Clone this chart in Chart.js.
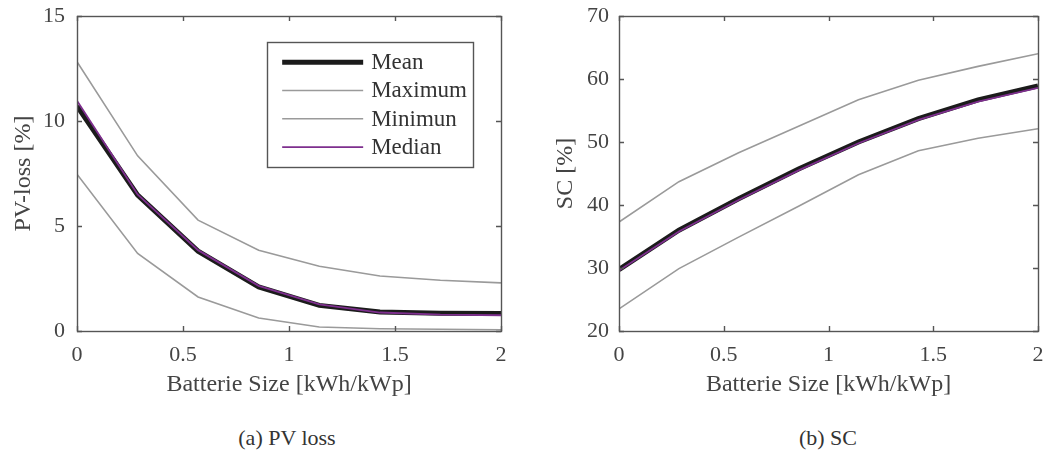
<!DOCTYPE html>
<html>
<head>
<meta charset="utf-8">
<title>PV loss and self-consumption vs battery size</title>
<script src="https://cdn.jsdelivr.net/npm/chart.js@4/dist/chart.umd.min.js"></script>
<style>
  html, body { margin: 0; padding: 0; background: #fff; }
  body { width: 1049px; height: 451px; position: relative; overflow: hidden; font-family: "Liberation Serif", "DejaVu Serif", serif; }
  .panel { position: absolute; top: 0; }
  .panel canvas { display: block; }
  .caption { position: absolute; top: 426px; width: 300px; text-align: center; font-size: 22px; line-height: 24px; color: #333; }
</style>
</head>
<body>
<div class="panel" style="left:0px"><canvas id="pvLoss" width="520" height="400"></canvas></div>
<div class="panel" style="left:520px"><canvas id="selfCons" width="529" height="400"></canvas></div>
<div class="caption" style="left:137px">(a) PV loss</div>
<div class="caption" style="left:678px">(b) SC</div>

<script>
// Battery size per kWp of PV, kWh/kWp
const batterySize = [0, 0.286, 0.571, 0.857, 1.143, 1.429, 1.714, 2];

// PV loss [%]
const pvLossMean   = [10.71, 6.47, 3.80, 2.10, 1.22, 0.91, 0.84, 0.83];
const pvLossMax    = [12.82, 8.34, 5.28, 3.85, 3.08, 2.62, 2.42, 2.29];
const pvLossMin    = [7.47, 3.69, 1.62, 0.62, 0.19, 0.11, 0.08, 0.06];
const pvLossMedian = [10.96, 6.50, 3.85, 2.15, 1.27, 0.88, 0.78, 0.75];

// Self-consumption [%]
const scMean   = [29.75, 36.0, 41.0, 45.7, 50.0, 53.7, 56.7, 58.9];
const scMax    = [37.3, 43.7, 48.3, 52.5, 56.7, 59.8, 62.0, 64.0];
const scMin    = [23.5, 29.9, 34.9, 39.8, 44.8, 48.6, 50.6, 52.1];
const scMedian = [29.6, 35.8, 40.8, 45.5, 49.8, 53.5, 56.4, 58.6];

const seriesNames = ['Mean', 'Maximum', 'Minimun', 'Median'];

const xTicks = [0, 0.5, 1, 1.5, 2];
const pvLossTicks = [0, 5, 10, 15];
const scTicks = [20, 30, 40, 50, 60, 70];

const FONT = '"Liberation Serif", "Times New Roman", serif';
const AXIS_COLOR = '#555555';
const TEXT_COLOR = '#444444';

function toPoints(xs, ys) {
  return xs.map((x, i) => ({ x: x, y: ys[i] }));
}

function makeDatasets(mean, max, min, median) {
  return [
    { label: seriesNames[0], data: toPoints(batterySize, mean),   borderColor: '#1b1b1b', borderWidth: 5,   order: 1 },
    { label: seriesNames[1], data: toPoints(batterySize, max),    borderColor: '#9a9a9a', borderWidth: 1.6, order: 2 },
    { label: seriesNames[2], data: toPoints(batterySize, min),    borderColor: '#9a9a9a', borderWidth: 1.6, order: 2 },
    { label: seriesNames[3], data: toPoints(batterySize, median), borderColor: '#7e2f8e', borderWidth: 1.8, order: 0 }
  ].map(d => Object.assign(d, { pointRadius: 0, fill: false, tension: 0, borderJoinStyle: 'miter', borderCapStyle: 'butt' }));
}

// Box around the plot area with inward tick marks on all four sides
const boxPlugin = {
  id: 'boxTicks',
  afterDatasetsDraw(chart) {
    const { ctx, chartArea: a, scales } = chart;
    const len = 5;
    ctx.save();
    ctx.strokeStyle = AXIS_COLOR;
    ctx.lineWidth = 1.4;
    ctx.beginPath();
    scales.x.ticks.forEach(t => {
      const px = Math.round(scales.x.getPixelForValue(t.value)) + 0.5;
      ctx.moveTo(px, a.bottom); ctx.lineTo(px, a.bottom - len);
      ctx.moveTo(px, a.top);    ctx.lineTo(px, a.top + len);
    });
    scales.y.ticks.forEach(t => {
      const py = Math.round(scales.y.getPixelForValue(t.value)) + 0.5;
      ctx.moveTo(a.left, py);  ctx.lineTo(a.left + len, py);
      ctx.moveTo(a.right, py); ctx.lineTo(a.right - len, py);
    });
    ctx.stroke();
    ctx.strokeRect(Math.round(a.left) + 0.5, Math.round(a.top) + 0.5,
                   Math.round(a.right - a.left), Math.round(a.bottom - a.top));
    ctx.restore();
  }
};

// Boxed legend in the upper right of the plot area, built from the datasets
const boxLegendPlugin = {
  id: 'boxLegend',
  afterDraw(chart, args, opts) {
    if (!opts || !opts.display) return;
    const { ctx, chartArea: a } = chart;
    const sets = chart.data.datasets;
    ctx.save();
    ctx.font = '23px ' + FONT;
    let textW = 0;
    sets.forEach(d => { textW = Math.max(textW, ctx.measureText(d.label).width); });
    const padL = 15, lineLen = 81, gap = 8, padR = 6, rowH = 28.3, padT = 6;
    const w = padL + lineLen + gap + textW + padR;
    const h = padT * 2 + rowH * sets.length;
    const right = a.right - 28;
    const top = a.top + 26;
    const left = right - w;
    ctx.fillStyle = '#ffffff';
    ctx.fillRect(left, top, w, h);
    ctx.strokeStyle = AXIS_COLOR;
    ctx.lineWidth = 1.4;
    ctx.strokeRect(Math.round(left) + 0.5, Math.round(top) + 0.5, Math.round(w), Math.round(h));
    sets.forEach((d, i) => {
      const cy = top + padT + rowH * i + rowH / 2;
      ctx.beginPath();
      ctx.strokeStyle = d.borderColor;
      ctx.lineWidth = d.borderWidth;
      ctx.lineCap = 'butt';
      ctx.moveTo(left + padL, cy);
      ctx.lineTo(left + padL + lineLen, cy);
      ctx.stroke();
      ctx.fillStyle = '#333333';
      ctx.textBaseline = 'middle';
      ctx.textAlign = 'left';
      ctx.fillText(d.label, left + padL + lineLen + gap, cy + 1);
    });
    ctx.restore();
  }
};

function makeChart(id, datasets, yMin, yMax, yStep, yTitle, yWidth, yTitlePad, yTickPad, padRight, showLegend) {
  return new Chart(document.getElementById(id), {
    type: 'line',
    data: { datasets: datasets },
    options: {
      responsive: false,
      animation: false,
      events: [],
      layout: { padding: { top: 16, right: padRight, bottom: 0, left: 0 } },
      plugins: {
        legend: { display: false },
        tooltip: { enabled: false },
        boxLegend: { display: showLegend }
      },
      scales: {
        x: {
          type: 'linear',
          min: 0, max: 2,
          afterBuildTicks: s => { s.ticks = xTicks.map(v => ({ value: v })); },
          afterFit: s => { s.height = 69; s.paddingLeft = 0; s.paddingRight = 0; },
          grid: { display: false, drawTicks: false },
          border: { display: false },
          ticks: { padding: 11, color: TEXT_COLOR, font: { family: FONT, size: 22 }, maxRotation: 0,
                   callback: v => String(v) },
          title: { display: true, text: 'Batterie Size [kWh/kWp]', color: TEXT_COLOR,
                   font: { family: FONT, size: 24 }, padding: { top: 0, bottom: 1 } }
        },
        y: {
          min: yMin, max: yMax,
          ticks: { stepSize: yStep, padding: yTickPad, color: TEXT_COLOR, font: { family: FONT, size: 22 } },
          afterFit: s => { s.width = yWidth; s.paddingTop = 0; s.paddingBottom = 0; },
          grid: { display: false, drawTicks: false },
          border: { display: false },
          title: { display: true, text: yTitle, color: TEXT_COLOR,
                   font: { family: FONT, size: 24 }, padding: { top: yTitlePad, bottom: 0 } }
        }
      }
    },
    plugins: [boxPlugin, boxLegendPlugin]
  });
}

makeChart('pvLoss', makeDatasets(pvLossMean, pvLossMax, pvLossMin, pvLossMedian),
          pvLossTicks[0], pvLossTicks[pvLossTicks.length - 1], 5, 'PV-loss [%]', 77, 9, 12, 19, true);
makeChart('selfCons', makeDatasets(scMean, scMax, scMin, scMedian),
          scTicks[0], scTicks[scTicks.length - 1], 10, 'SC [%]', 99, 31, 10, 11, false);
</script>
</body>
</html>
